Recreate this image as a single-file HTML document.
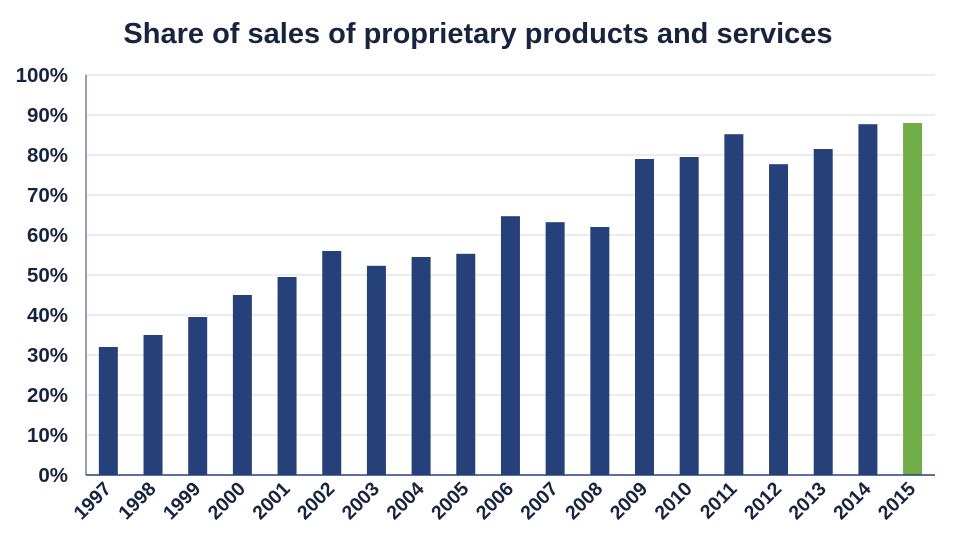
<!DOCTYPE html><html><head><style>body{margin:0;background:#fff}svg{display:block}text{font-family:"Liberation Sans",Arial,sans-serif;font-weight:bold;fill:#18233f}</style></head><body>
<svg width="958" height="550" xmlns="http://www.w3.org/2000/svg">
<text x="478" y="43" text-anchor="middle" font-size="29">Share of sales of proprietary products and services</text>
<g stroke="#d9d9d9" stroke-width="1">
<line x1="86" x2="935" y1="435" y2="435"/><line x1="86" x2="935" y1="395" y2="395"/><line x1="86" x2="935" y1="355" y2="355"/><line x1="86" x2="935" y1="315" y2="315"/><line x1="86" x2="935" y1="275" y2="275"/><line x1="86" x2="935" y1="235" y2="235"/><line x1="86" x2="935" y1="195" y2="195"/><line x1="86" x2="935" y1="155" y2="155"/><line x1="86" x2="935" y1="115" y2="115"/><line x1="86" x2="935" y1="75" y2="75"/>
</g>
<g font-size="20.5" text-anchor="end">
<text x="68" y="482">0%</text><text x="68" y="442">10%</text><text x="68" y="402">20%</text><text x="68" y="362">30%</text><text x="68" y="322">40%</text><text x="68" y="282">50%</text><text x="68" y="242">60%</text><text x="68" y="202">70%</text><text x="68" y="162">80%</text><text x="68" y="122">90%</text><text x="68" y="82">100%</text>
</g>
<g fill="#26417a">
<rect x="98.84" y="347" width="19" height="128"/>
<rect x="143.52" y="335" width="19" height="140"/>
<rect x="188.2" y="317" width="19" height="158"/>
<rect x="232.88" y="295" width="19" height="180"/>
<rect x="277.56" y="277" width="19" height="198"/>
<rect x="322.24" y="251" width="19" height="224"/>
<rect x="366.92" y="265.8" width="19" height="209.2"/>
<rect x="411.6" y="257" width="19" height="218"/>
<rect x="456.28" y="253.8" width="19" height="221.2"/>
<rect x="500.96" y="216.2" width="19" height="258.8"/>
<rect x="545.64" y="222.2" width="19" height="252.8"/>
<rect x="590.32" y="227" width="19" height="248"/>
<rect x="635" y="159" width="19" height="316"/>
<rect x="679.68" y="157" width="19" height="318"/>
<rect x="724.36" y="134.2" width="19" height="340.8"/>
<rect x="769.04" y="164.2" width="19" height="310.8"/>
<rect x="813.72" y="149" width="19" height="326"/>
<rect x="858.4" y="124.2" width="19" height="350.8"/>
</g>
<rect x="903.08" y="123" width="19" height="352" fill="#70ad47"/>
<line x1="86" x2="86" y1="75" y2="475" stroke="#26417a"/>
<line x1="86" x2="935" y1="475" y2="475" stroke="#26417a" stroke-width="1.5"/>
<g font-size="19.5" text-anchor="end">
<text transform="translate(112.3,490) rotate(-45)">1997</text>
<text transform="translate(157,490) rotate(-45)">1998</text>
<text transform="translate(201.7,490) rotate(-45)">1999</text>
<text transform="translate(246.4,490) rotate(-45)">2000</text>
<text transform="translate(291.1,490) rotate(-45)">2001</text>
<text transform="translate(335.7,490) rotate(-45)">2002</text>
<text transform="translate(380.4,490) rotate(-45)">2003</text>
<text transform="translate(425.1,490) rotate(-45)">2004</text>
<text transform="translate(469.8,490) rotate(-45)">2005</text>
<text transform="translate(514.5,490) rotate(-45)">2006</text>
<text transform="translate(559.1,490) rotate(-45)">2007</text>
<text transform="translate(603.8,490) rotate(-45)">2008</text>
<text transform="translate(648.5,490) rotate(-45)">2009</text>
<text transform="translate(693.2,490) rotate(-45)">2010</text>
<text transform="translate(737.9,490) rotate(-45)">2011</text>
<text transform="translate(782.5,490) rotate(-45)">2012</text>
<text transform="translate(827.2,490) rotate(-45)">2013</text>
<text transform="translate(871.9,490) rotate(-45)">2014</text>
<text transform="translate(916.6,490) rotate(-45)">2015</text>
</g>
</svg></body></html>
